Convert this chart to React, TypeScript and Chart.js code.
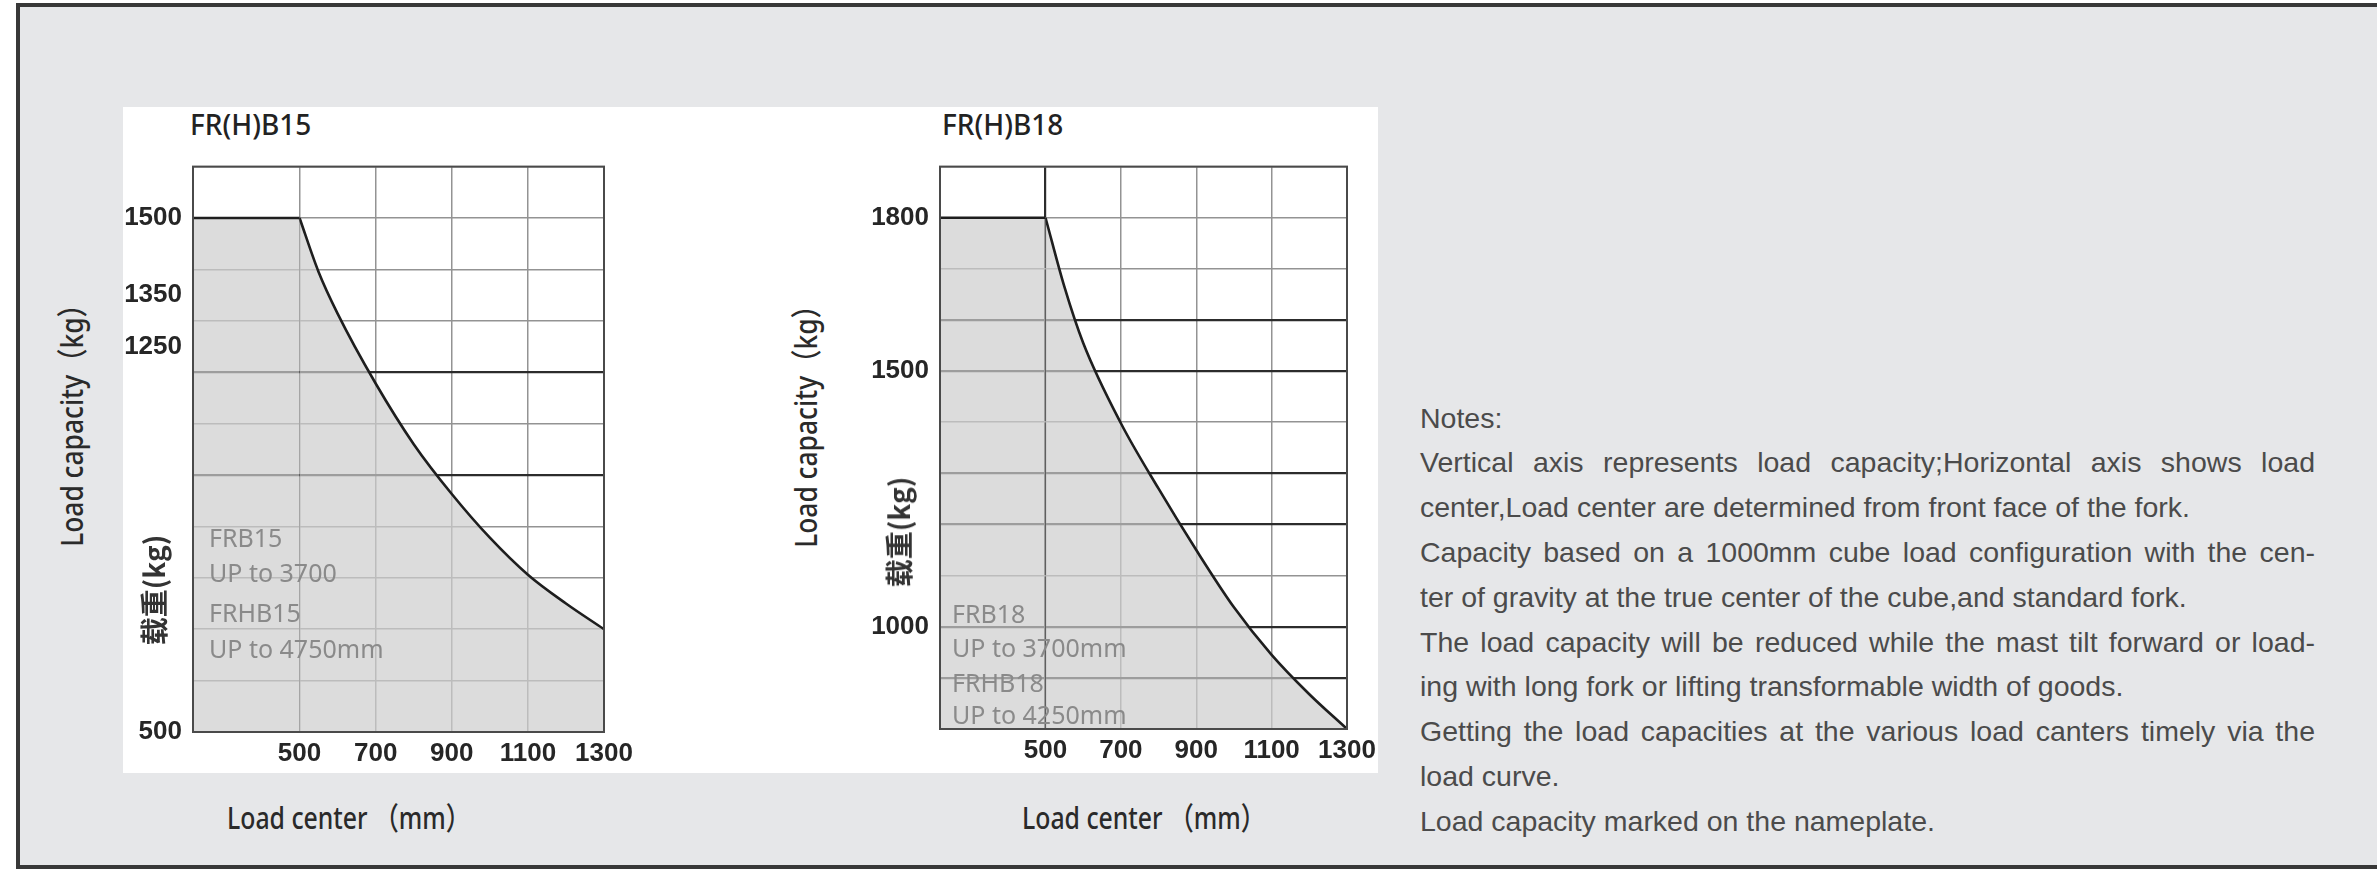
import React, { useEffect, useRef } from 'react';
import { Chart, registerables } from 'chart.js';

Chart.register(...registerables);

// ---------- data ----------
const xMin = 220;
const xMax = 1300;
const xTickValues = [500, 700, 900, 1100, 1300];

// FR(H)B15
const b15RatedX = [220, 500];
const b15RatedY = [1500, 1500];
const b15CurveX = [500, 550, 600, 700, 800, 900, 1000, 1100, 1200, 1300];
const b15CurveY = [1500, 1395, 1314, 1178, 1060, 963, 878, 806, 750, 700];
const b15YMin = 500;
const b15YMax = 1600;
const b15YGrid = [500, 600, 700, 800, 900, 1000, 1100, 1200, 1300, 1400, 1500, 1600];
const b15YLabels = [500, 1250, 1350, 1500];
const b15DarkY = [1200, 1000];
const b15DarkX: number[] = [];
const b15Notes = ['FRB15', 'UP to 3700', 'FRHB15', 'UP to 4750mm'];

// FR(H)B18
const b18RatedX = [220, 500];
const b18RatedY = [1800, 1800];
const b18CurveX = [500, 550, 600, 700, 800, 900, 1000, 1100, 1200, 1300];
const b18CurveY = [1800, 1665, 1555, 1398, 1270, 1150, 1038, 945, 868, 800];
const b18YMin = 800;
const b18YMax = 1900;
const b18YGrid = [800, 900, 1000, 1100, 1200, 1300, 1400, 1500, 1600, 1700, 1800, 1900];
const b18YLabels = [1000, 1500, 1800];
const b18DarkY = [1600, 1500, 1300, 1200, 1000, 900];
const b18DarkX = [500];
const b18Notes = ['FRB18', 'UP to 3700mm', 'FRHB18', 'UP to 4250mm'];

const noteLines: [string, boolean][] = [
  ['Notes:', false],
  ['Vertical axis represents load capacity;Horizontal axis shows load', true],
  ['center,Load center are determined from front face of the fork.', false],
  ['Capacity based on a 1000mm cube load configuration with the cen-', true],
  ['ter of gravity at the true center of the cube,and standard fork.', false],
  ['The load capacity will be reduced while the mast tilt forward or load-', true],
  ['ing with long fork or lifting transformable width of goods.', false],
  ['Getting the load capacities at the various load canters timely via the', true],
  ['load curve.', false],
  ['Load capacity marked on the nameplate.', false],
];

// ---------- styles ----------
const GRID_GRAY = '#939393';
const GRID_DARK = '#2c2c2c';
const FILL = 'rgba(205,205,205,0.7)';
const TICK_FONT = { family: "'Liberation Sans', Arial, sans-serif", size: 26, weight: 'bold' as const };

const framePlugin = {
  id: 'frame',
  afterDatasetsDraw(chart: any) {
    const { ctx, chartArea } = chart;
    const { left, top, right, bottom } = chartArea;
    ctx.save();
    ctx.strokeStyle = '#4a4a4a';
    ctx.lineWidth = 2;
    ctx.strokeRect(left, top, right - left, bottom - top);
    ctx.restore();
  },
};

type LoadChartProps = {
  left: number;
  top: number;
  width: number;
  height: number;
  padding: { left: number; top: number; right: number; bottom: number };
  ratedX: number[];
  ratedY: number[];
  curveX: number[];
  curveY: number[];
  yMin: number;
  yMax: number;
  yGrid: number[];
  yLabels: number[];
  darkY: number[];
  darkX: number[];
};

function LoadChart(p: LoadChartProps) {
  const ref = useRef<HTMLCanvasElement | null>(null);
  useEffect(() => {
    if (!ref.current) return;
    const yTickValues = Array.from(new Set([...p.yGrid, ...p.yLabels])).sort((a, b) => a - b);
    const chart = new Chart(ref.current, {
      type: 'line',
      data: {
        datasets: [
          {
            label: 'rated',
            data: p.ratedX.map((x, i) => ({ x, y: p.ratedY[i] })),
            borderColor: '#1e1e1e',
            borderWidth: 2.6,
            backgroundColor: FILL,
            fill: 'start',
            pointRadius: 0,
            tension: 0,
          },
          {
            label: 'curve',
            data: p.curveX.map((x, i) => ({ x, y: p.curveY[i] })),
            borderColor: '#1e1e1e',
            borderWidth: 2.6,
            backgroundColor: FILL,
            fill: 'start',
            pointRadius: 0,
            cubicInterpolationMode: 'monotone',
          },
        ],
      },
      options: {
        animation: false,
        responsive: false,
        maintainAspectRatio: false,
        layout: { padding: p.padding },
        plugins: { legend: { display: false }, tooltip: { enabled: false } },
        scales: {
          x: {
            type: 'linear',
            min: xMin,
            max: xMax,
            afterBuildTicks: (scale: any) => {
              scale.ticks = xTickValues.map((v) => ({ value: v }));
            },
            afterFit: (scale: any) => {
              scale.height = 40;
            },
            border: { display: false },
            grid: {
              drawTicks: false,
              color: (ctx: any) => (p.darkX.includes(ctx.tick?.value) ? GRID_DARK : GRID_GRAY),
              lineWidth: (ctx: any) => (p.darkX.includes(ctx.tick?.value) ? 2.2 : 1.5),
            },
            ticks: {
              autoSkip: false,
              maxRotation: 0,
              padding: 6,
              color: '#262626',
              font: TICK_FONT,
              callback: (v: any) => String(v),
            },
          },
          y: {
            type: 'linear',
            min: p.yMin,
            max: p.yMax,
            afterBuildTicks: (scale: any) => {
              scale.ticks = yTickValues.map((v) => ({ value: v }));
            },
            afterFit: (scale: any) => {
              scale.width = 70;
            },
            border: { display: false },
            grid: {
              drawTicks: false,
              color: (ctx: any) => {
                const v = ctx.tick?.value;
                if (!p.yGrid.includes(v)) return 'rgba(0,0,0,0)';
                return p.darkY.includes(v) ? GRID_DARK : GRID_GRAY;
              },
              lineWidth: (ctx: any) => (p.darkY.includes(ctx.tick?.value) ? 2.2 : 1.5),
            },
            ticks: {
              autoSkip: false,
              padding: 11,
              color: '#262626',
              font: TICK_FONT,
              callback: (v: any) => (p.yLabels.includes(Number(v)) ? String(v) : ''),
            },
          },
        },
      } as any,
      plugins: [framePlugin],
    });
    return () => chart.destroy();
  }, []);
  return (
    <canvas
      ref={ref}
      width={p.width}
      height={p.height}
      style={{ position: 'absolute', left: p.left, top: p.top, width: p.width, height: p.height }}
    />
  );
}

const NOTO = "'Noto Sans', 'Noto Sans CJK SC', sans-serif";

function Txt(props: { x: number; cy: number; size: number; text: string; style?: React.CSSProperties; sx?: number }) {
  return (
    <div
      style={{
        position: 'absolute',
        left: props.x,
        top: props.cy - props.size / 2,
        fontSize: props.size,
        lineHeight: 1,
        whiteSpace: 'nowrap',
        transformOrigin: 'left center',
        transform: props.sx ? `scaleX(${props.sx})` : undefined,
        ...props.style,
      }}
    >
      {props.text}
    </div>
  );
}

function RotTxt(props: { cx: number; cy: number; size: number; text: string; style?: React.CSSProperties; sx?: number }) {
  return (
    <div
      style={{
        position: 'absolute',
        left: props.cx,
        top: props.cy,
        fontSize: props.size,
        lineHeight: 1,
        whiteSpace: 'nowrap',
        transform: `translate(-50%, -50%) rotate(-90deg) scaleX(${props.sx ?? 1})`,
        ...props.style,
      }}
    >
      {props.text}
    </div>
  );
}

export default function App() {
  const annoStyle: React.CSSProperties = { fontFamily: NOTO, color: '#8a8a8a' };
  const titleStyle: React.CSSProperties = { fontFamily: NOTO, color: '#222', fontWeight: 500 };
  const axisStyle: React.CSSProperties = { fontFamily: NOTO, color: '#2a2a2a', fontWeight: 500 };
  const b15AnnoY = [537, 572, 612, 648];
  const b18AnnoY = [613, 647, 682, 714];
  return (
    <div
      style={{
        position: 'fixed',
        left: 0,
        top: 0,
        width: 2377,
        height: 883,
        overflow: 'hidden',
        background: '#ffffff',
      }}
    >
      <div
        style={{
          position: 'absolute',
          left: 16,
          top: 3,
          width: 2420,
          height: 866,
          boxSizing: 'border-box',
          border: '4px solid #383838',
          background: '#e6e7e9',
        }}
      />
      <div style={{ position: 'absolute', left: 123, top: 107, width: 1255, height: 666, background: '#ffffff' }} />

      {/* titles */}
      <Txt x={190} cy={124} size={28} text="FR(H)B15" style={titleStyle} />
      <Txt x={942} cy={124} size={28} text="FR(H)B18" style={titleStyle} />

      <LoadChart
        left={123}
        top={140}
        width={540}
        height={640}
        padding={{ left: 0, top: 22, right: 59, bottom: 8 }}
        ratedX={b15RatedX}
        ratedY={b15RatedY}
        curveX={b15CurveX}
        curveY={b15CurveY}
        yMin={b15YMin}
        yMax={b15YMax}
        yGrid={b15YGrid}
        yLabels={b15YLabels}
        darkY={b15DarkY}
        darkX={b15DarkX}
      />
      <LoadChart
        left={870}
        top={140}
        width={540}
        height={640}
        padding={{ left: 0, top: 25, right: 63, bottom: 11 }}
        ratedX={b18RatedX}
        ratedY={b18RatedY}
        curveX={b18CurveX}
        curveY={b18CurveY}
        yMin={b18YMin}
        yMax={b18YMax}
        yGrid={b18YGrid}
        yLabels={b18YLabels}
        darkY={b18DarkY}
        darkX={b18DarkX}
      />

      {/* in-plot annotations */}
      {b15Notes.map((t, i) => (
        <Txt key={'a' + i} x={209} cy={b15AnnoY[i]} size={25} text={t} style={annoStyle} />
      ))}
      {b18Notes.map((t, i) => (
        <Txt key={'b' + i} x={952} cy={b18AnnoY[i]} size={25} text={t} style={annoStyle} />
      ))}

      {/* axis titles */}
      <RotTxt cx={71} cy={419} size={31} sx={0.85} text="Load capacity（kg）" style={axisStyle} />
      <RotTxt cx={805} cy={420} size={31} sx={0.85} text="Load capacity（kg）" style={axisStyle} />
      <RotTxt cx={153} cy={590} size={28} text="载重(kg)" style={{ fontFamily: "'Noto Sans CJK SC', sans-serif", fontWeight: 'bold', color: '#333' }} />
      <RotTxt cx={898} cy={532} size={28} text="载重(kg)" style={{ fontFamily: "'Noto Sans CJK SC', sans-serif", fontWeight: 'bold', color: '#333' }} />
      <Txt x={227} cy={817} size={31} sx={0.8} text="Load center （mm）" style={axisStyle} />
      <Txt x={1022} cy={817} size={31} sx={0.8} text="Load center （mm）" style={axisStyle} />

      {/* notes */}
      <div
        style={{
          position: 'absolute',
          left: 1420,
          top: 395.6,
          width: 895,
          fontFamily: "'Liberation Sans', Arial, sans-serif",
          fontSize: 28.5,
          color: '#4b4b4b',
        }}
      >
        {noteLines.map(([t, j], i) => (
          <div
            key={i}
            style={{
              height: 44.8,
              lineHeight: '44.8px',
              textAlign: j ? 'justify' : 'left',
              textAlignLast: j ? 'justify' : 'auto',
            } as React.CSSProperties}
          >
            {t}
          </div>
        ))}
      </div>
    </div>
  );
}
